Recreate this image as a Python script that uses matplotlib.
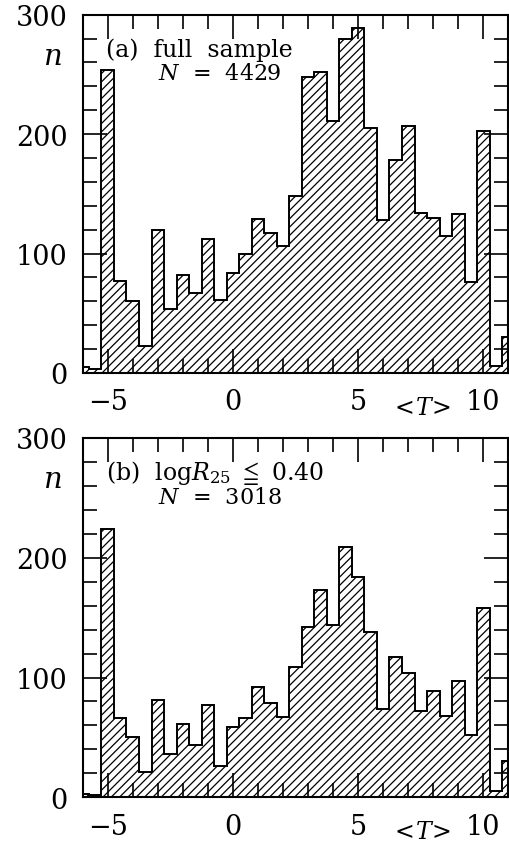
import numpy as np
import matplotlib.pyplot as plt
from matplotlib.ticker import MultipleLocator

plt.rcParams['font.family'] = ['DejaVu Serif', 'DejaVu Sans']
plt.rcParams['mathtext.fontset'] = 'dejavuserif'
plt.rcParams['hatch.linewidth'] = 0.9

# bin centres of <T> (width 0.5)
t_centers = np.arange(-6.0, 11.5, 0.5)

# (a) full sample
counts_full = [5, 3, 254, 77, 60, 23, 120, 54, 82, 67, 112, 61, 84, 100, 129, 117,
               106, 148, 248, 252, 211, 280, 289, 205, 128, 178, 207, 134, 130, 115,
               133, 76, 203, 6, 30]
# (b) log R25 <= 0.40
counts_face = [3, 2, 224, 66, 50, 21, 81, 36, 61, 44, 77, 26, 59, 66, 92, 79,
               67, 109, 142, 173, 144, 209, 184, 138, 74, 117, 104, 72, 89, 68,
               97, 52, 158, 5, 30]

panel_text = ["(a)  full  sample", r"(b)  log$R_{25}$ $\leqq$ 0.40"]
panel_n = ["$N$  =  4429", "$N$  =  3018"]

edges = np.append(t_centers - 0.25, t_centers[-1] + 0.25)

fig = plt.figure(figsize=(5.1, 8.45), dpi=100)
ax1 = fig.add_axes([0.162, 0.5574, 0.835, 0.424])
ax2 = fig.add_axes([0.162, 0.0553, 0.835, 0.4252])

for ax, counts, txt, ntxt in zip([ax1, ax2], [counts_full, counts_face], panel_text, panel_n):
    ax.stairs(counts, edges, fill=True, facecolor='none', edgecolor='black',
              hatch='////', linewidth=1.4)
    ax.set_xlim(-6, 11)
    ax.set_ylim(0, 300)
    ax.xaxis.set_major_locator(MultipleLocator(5))
    ax.xaxis.set_minor_locator(MultipleLocator(1))
    ax.yaxis.set_major_locator(MultipleLocator(100))
    ax.yaxis.set_minor_locator(MultipleLocator(20))
    ax.tick_params(which='both', direction='in', top=True, right=True,
                   labelsize=19.5, width=1.2)
    ax.tick_params(which='major', length=17, pad=11)
    ax.tick_params(which='minor', length=10)
    for s in ax.spines.values():
        s.set_linewidth(1.5)
    ax.text(0.055, 0.886, txt, transform=ax.transAxes, fontsize=17,
            ha='left', va='baseline')
    ax.text(0.177, 0.82, ntxt, transform=ax.transAxes, fontsize=16,
            ha='left', va='baseline')
    ax.text(-0.05, 0.885, '$n$', transform=ax.transAxes, fontsize=21,
            ha='right', va='center')
    ax.text(7.5, -0.095, r'$<\!T\!>$', transform=ax.get_xaxis_transform(),
            fontsize=17, ha='center', va='center')

fig.savefig('out.png', dpi=100)
